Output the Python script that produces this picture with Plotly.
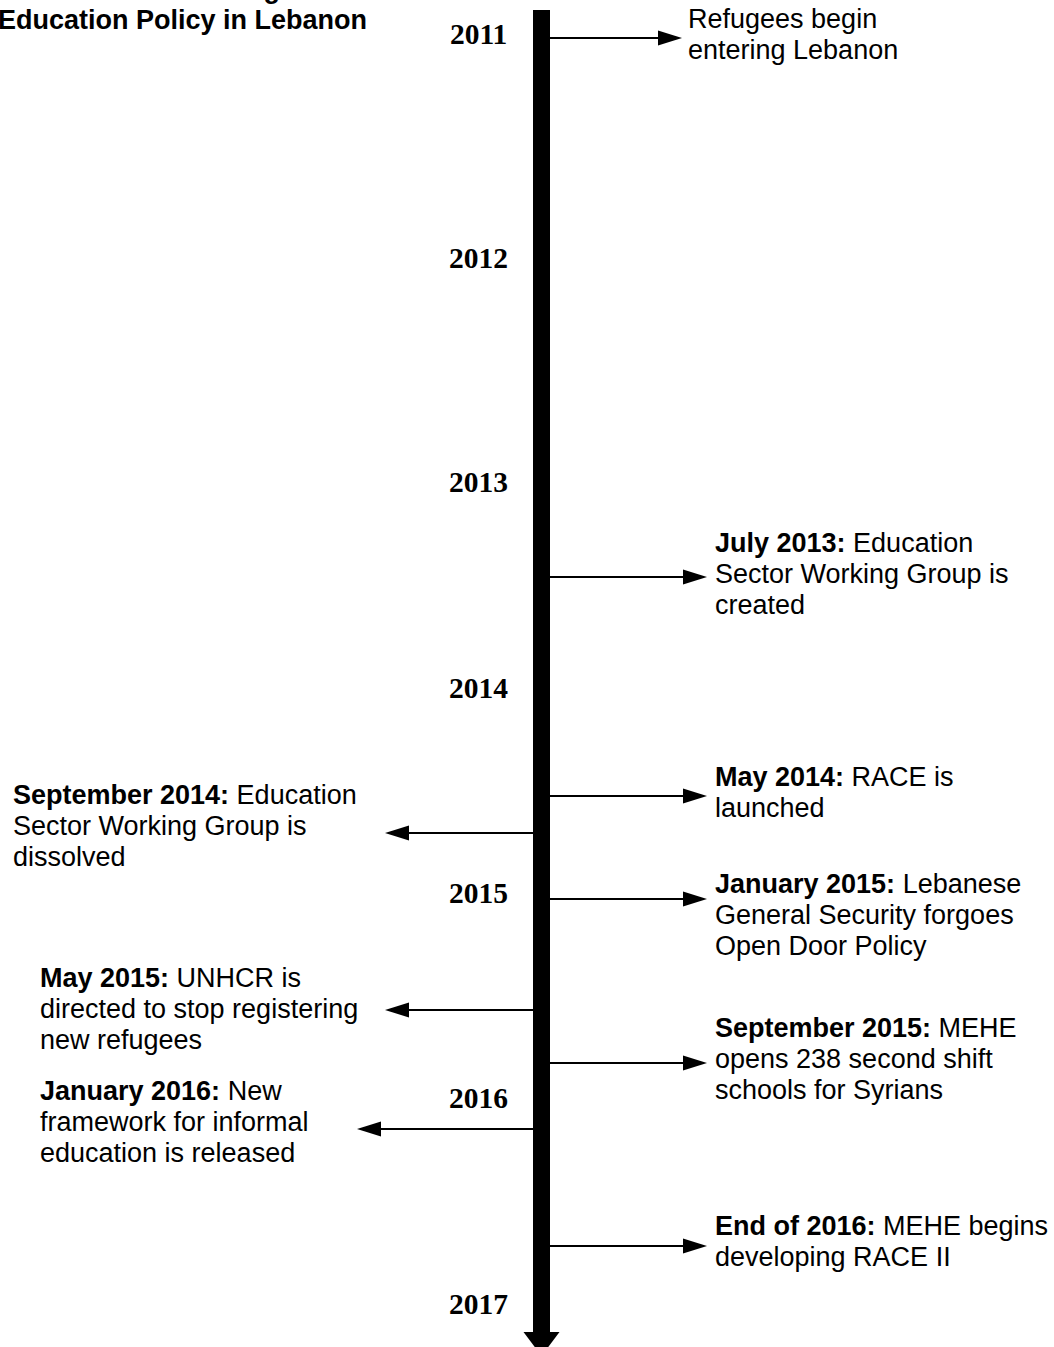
import plotly.graph_objects as go

# ---------------- data ----------------
years = ["2011", "2012", "2013", "2014", "2015", "2016", "2017"]
year_pos = [34, 258, 482, 688, 893, 1098, 1304]          # position along the timeline

event_pos = [38, 577, 796, 833, 899, 1010, 1063, 1129, 1246]
event_side = ["right", "right", "right", "left", "right", "left", "right", "left", "right"]
event_lines = [
    ["Refugees begin", "entering Lebanon"],
    ["<b>July 2013:</b> Education", "Sector Working Group is", "created"],
    ["<b>May 2014:</b> RACE is", "launched"],
    ["<b>September 2014:</b> Education", "Sector Working Group is", "dissolved"],
    ["<b>January 2015:</b> Lebanese", "General Security forgoes", "Open Door Policy"],
    ["<b>May 2015:</b> UNHCR is", "directed to stop registering", "new refugees"],
    ["<b>September 2015:</b> MEHE", "opens 238 second shift", "schools for Syrians"],
    ["<b>January 2016:</b> New", "framework for informal", "education is released"],
    ["<b>End of 2016:</b> MEHE begins", "developing RACE II"],
]
title_lines = ["Timeline of Refugee", "Education Policy in Lebanon"]

# ---------------- layout / style ----------------
W, H = 1054, 1347
BAR_L, BAR_R = 533, 550
BAR_TOP, BAR_END = 10, 1332
HEAD_HALF, HEAD_TIP = 18, 1356
text_first = [19, 543, 777, 795, 884, 978, 1028, 1091, 1226]
text_x = [686, 713, 713, 11, 713, 38, 713, 38, 713]
arrow_tip = [682, 707, 707, 385, 707, 385, 707, 357, 707]
LINE_GAP = 31
AH_LEN, AH_HALF = 24, 7.5
TXT_FONT = dict(family="Liberation Sans, Arial, sans-serif", size=27, color="black")
YEAR_FONT = dict(family="Liberation Serif, Times New Roman, serif", size=29.5, color="black")
TITLE_FONT = dict(family="Liberation Sans, Arial, sans-serif", size=27, color="black")

fig = go.Figure()
fig.add_trace(go.Scatter(x=[0], y=[0], mode="markers", marker=dict(opacity=0), hoverinfo="skip", showlegend=False))

shapes = []
# main timeline bar
shapes.append(dict(type="rect", xref="x", yref="y", x0=BAR_L, x1=BAR_R, y0=BAR_TOP, y1=BAR_END + 2,
                   fillcolor="black", line=dict(width=0)))
cx = (BAR_L + BAR_R) / 2
shapes.append(dict(type="path", xref="x", yref="y",
                   path=f"M{cx - HEAD_HALF},{BAR_END} L{cx + HEAD_HALF},{BAR_END} L{cx},{HEAD_TIP} Z",
                   fillcolor="black", line=dict(width=0)))

annotations = []
for pos, side, lines, tx, tip, t0 in zip(event_pos, event_side, event_lines, text_x, arrow_tip, text_first):
    if side == "right":
        start, base = BAR_R, tip - AH_LEN
    else:
        start, base = BAR_L, tip + AH_LEN
    shapes.append(dict(type="line", xref="x", yref="y", x0=start, x1=base, y0=pos, y1=pos,
                       line=dict(color="black", width=2)))
    shapes.append(dict(type="path", xref="x", yref="y",
                       path=f"M{base},{pos - AH_HALF} L{tip},{pos} L{base},{pos + AH_HALF} Z",
                       fillcolor="black", line=dict(width=0)))
    for i, ln in enumerate(lines):
        annotations.append(dict(x=tx, y=t0 + i * LINE_GAP, xref="x", yref="y", text=ln,
                                showarrow=False, xanchor="left", yanchor="middle", font=TXT_FONT))

for yr, yp in zip(years, year_pos):
    annotations.append(dict(x=478, y=yp, xref="x", yref="y", text=f"<b>{yr}</b>", showarrow=False,
                            xanchor="center", yanchor="middle", font=YEAR_FONT))

for i, ln in enumerate(title_lines):
    ypix = -11 + i * LINE_GAP
    annotations.append(dict(x=182 / W, y=1 - ypix / H, xref="paper", yref="paper", text=f"<b>{ln}</b>",
                            showarrow=False, xanchor="center", yanchor="middle", font=TITLE_FONT))

fig.update_layout(
    width=W, height=H, margin=dict(l=0, r=0, t=0, b=0),
    paper_bgcolor="white", plot_bgcolor="white",
    xaxis=dict(range=[0, W], visible=False, fixedrange=True),
    yaxis=dict(range=[H, 0], visible=False, fixedrange=True),
    shapes=shapes, annotations=annotations, showlegend=False,
)
fig.write_html("out.html", config={"displayModeBar": False},
               post_script="document.body.style.margin='0';document.body.style.overflow='hidden';")
